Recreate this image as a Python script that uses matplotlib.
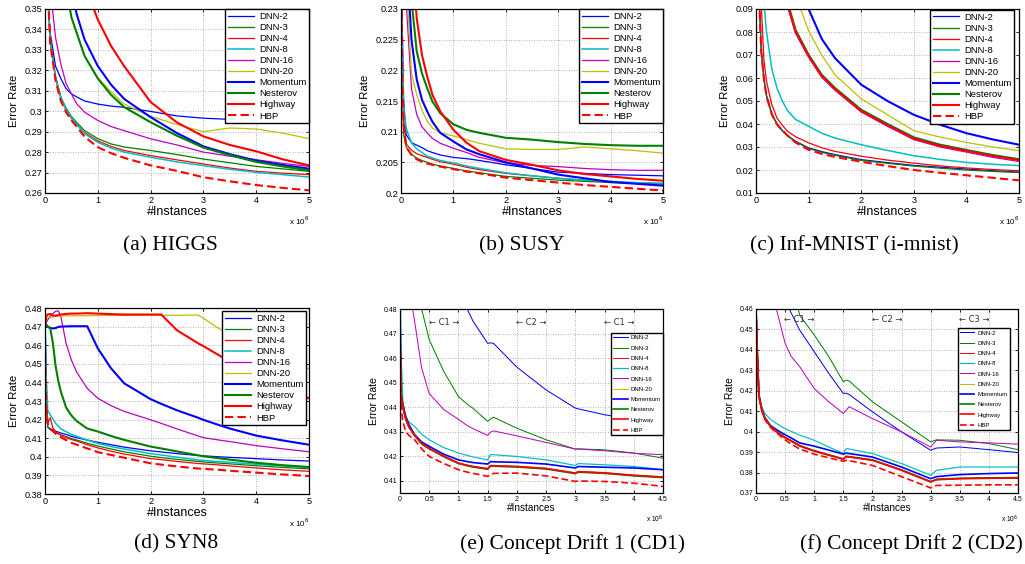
import matplotlib.pyplot as plt
from matplotlib.ticker import FormatStrFormatter

plt.rcParams['font.family'] = ['Liberation Sans', 'DejaVu Sans']

names = ['DNN-2', 'DNN-3', 'DNN-4', 'DNN-8', 'DNN-16', 'DNN-20',
         'Momentum', 'Nesterov', 'Highway', 'HBP']
colors = ['#0000ff', '#008000', '#ff0000', '#00bfbf', '#bf00bf', '#bfbf00',
          '#0000ff', '#008000', '#ff0000', '#ff0000']
widths = [0.9, 0.9, 0.9, 1.1, 0.9, 0.9, 1.5, 1.5, 1.5, 1.5]

# (a) HIGGS, x in units of 1e6 instances
x_higgs = [0, 0.05, 0.1, 0.2, 0.3, 0.4, 0.5, 0.6, 0.75, 1, 1.25, 1.5, 2, 2.5, 3, 3.5, 4, 4.5, 5]
higgs = {
    'DNN-2': [0.50, 0.355, 0.338, 0.322, 0.316, 0.311, 0.3085, 0.307, 0.305, 0.3035, 0.3025, 0.3019, 0.2999, 0.2977, 0.2966, 0.2960, 0.2955, 0.2950, 0.2945],
    'DNN-3': [0.50, 0.36, 0.335, 0.317, 0.307, 0.3015, 0.2975, 0.2945, 0.2905, 0.2866, 0.2840, 0.2825, 0.2808, 0.2788, 0.2766, 0.2748, 0.2730, 0.2718, 0.2706],
    'DNN-4': [0.50, 0.36, 0.334, 0.316, 0.306, 0.3005, 0.2965, 0.2935, 0.2895, 0.2855, 0.2828, 0.2808, 0.2783, 0.2762, 0.2742, 0.2722, 0.2706, 0.2697, 0.2690],
    'DNN-8': [0.50, 0.36, 0.334, 0.3165, 0.3065, 0.301, 0.297, 0.2935, 0.2890, 0.2848, 0.2820, 0.2800, 0.2775, 0.2752, 0.2734, 0.2716, 0.2701, 0.2690, 0.2678],
    'DNN-16': [0.50, 0.40, 0.36, 0.336, 0.323, 0.3135, 0.3085, 0.3037, 0.2995, 0.2955, 0.2925, 0.2905, 0.2865, 0.2835, 0.2800, 0.2780, 0.2763, 0.2745, 0.2730],
    'DNN-20': [0.60, 0.55, 0.50, 0.43, 0.385, 0.36, 0.346, 0.3383, 0.327, 0.3165, 0.3095, 0.3035, 0.2975, 0.2935, 0.2900, 0.2918, 0.2913, 0.2893, 0.2866],
    'Momentum': [0.60, 0.57, 0.54, 0.47, 0.42, 0.385, 0.36, 0.3475, 0.335, 0.3221, 0.313, 0.306, 0.2971, 0.2893, 0.2828, 0.2790, 0.2758, 0.2737, 0.2719],
    'Nesterov': [0.60, 0.55, 0.50, 0.43, 0.385, 0.36, 0.346, 0.3383, 0.327, 0.316, 0.308, 0.302, 0.2946, 0.2880, 0.2822, 0.2785, 0.2752, 0.2730, 0.2711],
    'Highway': [0.70, 0.65, 0.60, 0.52, 0.47, 0.43, 0.405, 0.385, 0.362, 0.3448, 0.332, 0.322, 0.3045, 0.2945, 0.2877, 0.2835, 0.2804, 0.2765, 0.2735],
    'HBP': [0.50, 0.36, 0.333, 0.315, 0.305, 0.2995, 0.2955, 0.2925, 0.2875, 0.2824, 0.2795, 0.2772, 0.2735, 0.2708, 0.2677, 0.2657, 0.2639, 0.2625, 0.2613],
}

# (b) SUSY
x_susy = [0, 0.02, 0.05, 0.1, 0.2, 0.3, 0.4, 0.5, 0.6, 0.75, 1, 1.25, 1.5, 2, 2.5, 3, 3.5, 4, 4.5, 5]
susy = {
    'DNN-2': [0.25, 0.23, 0.215, 0.2095, 0.2082, 0.2078, 0.2074, 0.2069, 0.2066, 0.2062, 0.2058, 0.2056, 0.2053, 0.2046, 0.2040, 0.2034, 0.2032, 0.2030, 0.2029, 0.2028],
    'DNN-3': [0.25, 0.222, 0.2095, 0.2075, 0.2063, 0.2057, 0.2053, 0.2050, 0.2047, 0.2044, 0.2040, 0.2036, 0.2033, 0.2027, 0.2024, 0.2021, 0.2019, 0.2017, 0.2016, 0.2015],
    'DNN-4': [0.25, 0.224, 0.212, 0.2080, 0.2070, 0.2064, 0.2061, 0.2058, 0.2055, 0.2051, 0.2047, 0.2042, 0.2038, 0.2032, 0.2028, 0.2024, 0.2021, 0.2018, 0.2016, 0.2015],
    'DNN-8': [0.25, 0.226, 0.214, 0.2105, 0.2082, 0.2072, 0.2066, 0.2060, 0.2057, 0.2053, 0.2049, 0.2044, 0.2040, 0.2033, 0.2028, 0.2024, 0.2021, 0.2019, 0.2017, 0.2016],
    'DNN-16': [0.25, 0.245, 0.238, 0.231, 0.2170, 0.2128, 0.2108, 0.2098, 0.2089, 0.2081, 0.2073, 0.2066, 0.2058, 0.2049, 0.2045, 0.2043, 0.2040, 0.2038, 0.2037, 0.2037],
    'DNN-20': [0.25, 0.248, 0.245, 0.235, 0.2195, 0.2160, 0.2135, 0.2117, 0.2106, 0.2098, 0.2093, 0.2087, 0.2081, 0.2072, 0.2071, 0.2071, 0.2075, 0.2072, 0.2069, 0.2065],
    'Momentum': [0.25, 0.25, 0.248, 0.240, 0.225, 0.2185, 0.2152, 0.2133, 0.2116, 0.2098, 0.2084, 0.2071, 0.2063, 0.2050, 0.2040, 0.2030, 0.2024, 0.2018, 0.2015, 0.2012],
    'Nesterov': [0.25, 0.25, 0.25, 0.248, 0.2315, 0.2231, 0.2195, 0.2171, 0.2149, 0.2130, 0.2112, 0.2103, 0.2098, 0.2090, 0.2087, 0.2083, 0.2080, 0.2078, 0.2077, 0.2077],
    'Highway': [0.25, 0.25, 0.25, 0.25, 0.240, 0.2285, 0.2225, 0.2190, 0.2160, 0.2133, 0.2103, 0.2082, 0.2068, 0.2054, 0.2046, 0.2037, 0.2031, 0.2027, 0.2023, 0.2020],
    'HBP': [0.25, 0.22, 0.211, 0.2075, 0.2062, 0.2055, 0.2051, 0.2048, 0.2046, 0.2043, 0.2039, 0.2035, 0.2032, 0.2025, 0.2021, 0.2017, 0.2013, 0.2010, 0.2007, 0.2004],
}

# (c) Inf-MNIST
x_mnist = [0, 0.05, 0.1, 0.15, 0.2, 0.3, 0.4, 0.5, 0.6, 0.75, 1, 1.25, 1.5, 2, 2.5, 3, 3.5, 4, 4.5, 5]
mnist = {
    'DNN-2': [0.2, 0.10, 0.0720, 0.0600, 0.0525, 0.0445, 0.0400, 0.0372, 0.0350, 0.0325, 0.0296, 0.0280, 0.0267, 0.0245, 0.0232, 0.0220, 0.0212, 0.0204, 0.0197, 0.0191],
    'DNN-3': [0.2, 0.10, 0.0715, 0.0595, 0.0520, 0.0442, 0.0398, 0.0370, 0.0348, 0.0323, 0.0294, 0.0277, 0.0264, 0.0242, 0.0229, 0.0217, 0.0208, 0.0200, 0.0194, 0.0189],
    'DNN-4': [0.2, 0.12, 0.0920, 0.0680, 0.0585, 0.0485, 0.0425, 0.0395, 0.0368, 0.0345, 0.0318, 0.0297, 0.0281, 0.0260, 0.0243, 0.0230, 0.0218, 0.0209, 0.0202, 0.0197],
    'DNN-8': [0.2, 0.16, 0.13, 0.093, 0.080, 0.0640, 0.0555, 0.0500, 0.0458, 0.0420, 0.0390, 0.0360, 0.0339, 0.0310, 0.0285, 0.0262, 0.0246, 0.0233, 0.0225, 0.0219],
    'DNN-16': [0.3, 0.3, 0.28, 0.25, 0.22, 0.17, 0.13, 0.106, 0.091, 0.0795, 0.0690, 0.0603, 0.0547, 0.0452, 0.0390, 0.0332, 0.0300, 0.0278, 0.0255, 0.0237],
    'DNN-20': [0.3, 0.3, 0.28, 0.25, 0.22, 0.18, 0.15, 0.13, 0.115, 0.096, 0.0805, 0.0700, 0.0614, 0.0510, 0.0440, 0.0371, 0.0343, 0.0320, 0.0300, 0.0284],
    'Momentum': [0.3, 0.3, 0.28, 0.25, 0.22, 0.19, 0.16, 0.14, 0.125, 0.108, 0.090, 0.0770, 0.0687, 0.0571, 0.0500, 0.0440, 0.0397, 0.0360, 0.0333, 0.0310],
    'Nesterov': [0.3, 0.3, 0.28, 0.25, 0.22, 0.17, 0.13, 0.108, 0.093, 0.0810, 0.0701, 0.0614, 0.0557, 0.0462, 0.0400, 0.0342, 0.0310, 0.0287, 0.0265, 0.0247],
    'Highway': [0.3, 0.3, 0.28, 0.25, 0.22, 0.17, 0.13, 0.107, 0.092, 0.0803, 0.0696, 0.0609, 0.0552, 0.0457, 0.0395, 0.0337, 0.0305, 0.0283, 0.0261, 0.0243],
    'HBP': [0.2, 0.10, 0.0715, 0.0595, 0.0520, 0.0442, 0.0398, 0.0372, 0.0350, 0.0320, 0.0288, 0.0270, 0.0257, 0.0236, 0.0217, 0.0200, 0.0188, 0.0177, 0.0166, 0.0155],
}

# (d) SYN8
x_syn8 = [0, 0.02, 0.05, 0.1, 0.15, 0.2, 0.25, 0.3, 0.4, 0.5, 0.6, 0.8, 1, 1.25, 1.5, 2, 2.2, 2.5, 2.9, 3, 3.3, 3.5, 4, 4.5, 5]
syn8 = {
    'DNN-2': [0.478, 0.445, 0.416, 0.415, 0.4145, 0.4138, 0.4133, 0.4128, 0.4120, 0.4110, 0.4103, 0.4090, 0.4078, 0.4065, 0.4052, 0.4032, 0.4026, 0.4017, 0.4007, 0.4005, 0.4000, 0.3997, 0.3990, 0.3983, 0.3977],
    'DNN-3': [0.470, 0.440, 0.416, 0.4145, 0.4138, 0.4130, 0.4124, 0.4118, 0.4108, 0.4098, 0.4090, 0.4073, 0.4058, 0.4042, 0.4027, 0.4003, 0.3996, 0.3986, 0.3975, 0.3972, 0.3966, 0.3962, 0.3952, 0.3943, 0.3935],
    'DNN-4': [0.458, 0.440, 0.418, 0.421, 0.4155, 0.4135, 0.4125, 0.4115, 0.4103, 0.4093, 0.4085, 0.4065, 0.4048, 0.4030, 0.4015, 0.3990, 0.3985, 0.3975, 0.3964, 0.3962, 0.3956, 0.3951, 0.3940, 0.3930, 0.3922],
    'DNN-8': [0.475, 0.445, 0.425, 0.4225, 0.4205, 0.4180, 0.4165, 0.4150, 0.4135, 0.4120, 0.4110, 0.4090, 0.4072, 0.4055, 0.4042, 0.4017, 0.4010, 0.3998, 0.3983, 0.3980, 0.3974, 0.3970, 0.3960, 0.3951, 0.3943],
    'DNN-16': [0.470, 0.472, 0.4735, 0.4755, 0.4770, 0.4782, 0.4785, 0.4755, 0.4610, 0.4520, 0.4455, 0.4368, 0.4315, 0.4275, 0.4244, 0.4199, 0.4180, 0.4150, 0.4112, 0.4103, 0.4090, 0.4082, 0.4060, 0.4043, 0.4027],
    'DNN-20': [0.470, 0.4735, 0.4750, 0.4748, 0.4752, 0.4755, 0.4756, 0.4757, 0.4758, 0.4758, 0.4758, 0.4759, 0.4760, 0.4760, 0.4760, 0.4761, 0.4761, 0.4761, 0.4762, 0.4745, 0.4688, 0.4655, 0.4585, 0.4525, 0.4473],
    'Momentum': [0.4708, 0.4705, 0.4700, 0.4693, 0.4690, 0.4692, 0.4698, 0.4700, 0.4701, 0.4702, 0.4702, 0.4702, 0.4583, 0.4476, 0.4395, 0.4310, 0.4285, 0.4250, 0.4210, 0.4199, 0.4170, 0.4152, 0.4114, 0.4088, 0.4065],
    'Nesterov': [0.4715, 0.4712, 0.4700, 0.4690, 0.4610, 0.4490, 0.4410, 0.4350, 0.4265, 0.4222, 0.4192, 0.4152, 0.4136, 0.4112, 0.4091, 0.4055, 0.4045, 0.4029, 0.4008, 0.4003, 0.3992, 0.3985, 0.3968, 0.3955, 0.3945],
    'Highway': [0.470, 0.4755, 0.4765, 0.4768, 0.4760, 0.4758, 0.4762, 0.4765, 0.4768, 0.4770, 0.4770, 0.4772, 0.4770, 0.4767, 0.4765, 0.4765, 0.4765, 0.4680, 0.4610, 0.4595, 0.4545, 0.4510, 0.4440, 0.4375, 0.4315],
    'HBP': [0.455, 0.430, 0.418, 0.415, 0.4138, 0.4125, 0.4115, 0.4105, 0.4090, 0.4075, 0.4065, 0.4045, 0.4025, 0.4010, 0.3995, 0.3965, 0.3958, 0.3948, 0.3937, 0.3935, 0.3930, 0.3925, 0.3915, 0.3905, 0.3897],
}

# (e) Concept Drift 1
x_cd1 = [0, 0.02, 0.05, 0.1, 0.15, 0.25, 0.37, 0.5, 0.75, 1, 1.15, 1.25, 1.5, 1.55, 1.6, 2, 2.5, 3, 3.05, 3.5, 4, 4.5]
cd1 = {
    'DNN-2': [0.75, 0.74, 0.73, 0.72, 0.70, 0.65, 0.60, 0.56, 0.52, 0.495, 0.480, 0.475, 0.4660, 0.4662, 0.4660, 0.4563, 0.4470, 0.4396, 0.4393, 0.4369, 0.4350, 0.4335],
    'DNN-3': [0.65, 0.64, 0.62, 0.60, 0.58, 0.53, 0.480, 0.4675, 0.4545, 0.4443, 0.4412, 0.4395, 0.4342, 0.4352, 0.4359, 0.4314, 0.4267, 0.4229, 0.4230, 0.4226, 0.4213, 0.4192],
    'DNN-4': [0.47, 0.445, 0.440, 0.435, 0.432, 0.4285, 0.4252, 0.4232, 0.4200, 0.4172, 0.4163, 0.4158, 0.4149, 0.4162, 0.4161, 0.4158, 0.4150, 0.4131, 0.4137, 0.4132, 0.4122, 0.4115],
    'DNN-8': [0.50, 0.46, 0.442, 0.436, 0.434, 0.4321, 0.4290, 0.4267, 0.4235, 0.4213, 0.4203, 0.4197, 0.4185, 0.4207, 0.4206, 0.4199, 0.4185, 0.4162, 0.4170, 0.4165, 0.4158, 0.4145],
    'DNN-16': [0.60, 0.58, 0.55, 0.51, 0.49, 0.4750, 0.4560, 0.4455, 0.4390, 0.4350, 0.4325, 0.4312, 0.4285, 0.4298, 0.4303, 0.4283, 0.4256, 0.4229, 0.4229, 0.4222, 0.4212, 0.4206],
    'DNN-20': [0.47, 0.445, 0.440, 0.435, 0.432, 0.4285, 0.4253, 0.4233, 0.4201, 0.4173, 0.4164, 0.4159, 0.4150, 0.4163, 0.4162, 0.4159, 0.4151, 0.4132, 0.4138, 0.4133, 0.4123, 0.4116],
    'Momentum': [0.48, 0.445, 0.441, 0.436, 0.433, 0.4288, 0.4258, 0.4240, 0.4208, 0.4185, 0.4178, 0.4174, 0.4168, 0.4178, 0.4177, 0.4175, 0.4168, 0.4152, 0.4158, 0.4155, 0.4152, 0.4145],
    'Nesterov': [0.47, 0.445, 0.440, 0.435, 0.432, 0.4284, 0.4250, 0.4230, 0.4198, 0.4170, 0.4161, 0.4156, 0.4147, 0.4160, 0.4159, 0.4156, 0.4148, 0.4129, 0.4135, 0.4130, 0.4120, 0.4113],
    'Highway': [0.47, 0.445, 0.440, 0.435, 0.432, 0.4285, 0.4252, 0.4232, 0.4200, 0.4172, 0.4163, 0.4158, 0.4149, 0.4162, 0.4161, 0.4158, 0.4150, 0.4131, 0.4137, 0.4132, 0.4122, 0.4115],
    'HBP': [0.47, 0.44, 0.434, 0.430, 0.4285, 0.4267, 0.4230, 0.4199, 0.4170, 0.4145, 0.4135, 0.4130, 0.4118, 0.4125, 0.4130, 0.4131, 0.4120, 0.4097, 0.4099, 0.4097, 0.4090, 0.4077],
}

# (f) Concept Drift 2
x_cd2 = [0, 0.02, 0.05, 0.1, 0.15, 0.25, 0.35, 0.5, 0.6, 0.75, 1, 1.25, 1.5, 1.55, 1.6, 2, 2.5, 3, 3.1, 3.5, 4, 4.5]
cd2 = {
    'DNN-2': [0.70, 0.65, 0.60, 0.56, 0.53, 0.50, 0.48, 0.465, 0.4583, 0.4497, 0.4391, 0.4285, 0.4187, 0.4188, 0.4182, 0.4097, 0.3999, 0.3909, 0.3920, 0.3925, 0.3912, 0.3898],
    'DNN-3': [0.75, 0.70, 0.66, 0.62, 0.59, 0.55, 0.52, 0.49, 0.475, 0.4570, 0.4473, 0.4367, 0.4244, 0.4252, 0.4248, 0.4146, 0.4048, 0.3950, 0.3960, 0.3958, 0.3942, 0.3912],
    'DNN-4': [0.46, 0.44, 0.418, 0.4105, 0.4065, 0.4025, 0.4000, 0.3970, 0.3955, 0.3930, 0.3905, 0.3885, 0.3865, 0.3878, 0.3876, 0.3860, 0.3811, 0.3754, 0.3765, 0.3770, 0.3772, 0.3773],
    'DNN-8': [0.46, 0.44, 0.4171, 0.4122, 0.4089, 0.4060, 0.4040, 0.4015, 0.4002, 0.3983, 0.3958, 0.3925, 0.3893, 0.3917, 0.3915, 0.3893, 0.3844, 0.3787, 0.3811, 0.3827, 0.3827, 0.3827],
    'DNN-16': [0.62, 0.58, 0.54, 0.51, 0.49, 0.475, 0.460, 0.4432, 0.4370, 0.4318, 0.4211, 0.4146, 0.4089, 0.4105, 0.4122, 0.4064, 0.3999, 0.3925, 0.3958, 0.3950, 0.3945, 0.3939],
    'DNN-20': [0.46, 0.44, 0.418, 0.4105, 0.4065, 0.4026, 0.4001, 0.3971, 0.3956, 0.3931, 0.3906, 0.3886, 0.3866, 0.3879, 0.3877, 0.3861, 0.3812, 0.3755, 0.3766, 0.3771, 0.3773, 0.3774],
    'Momentum': [0.46, 0.44, 0.418, 0.411, 0.407, 0.403, 0.401, 0.3985, 0.3970, 0.3945, 0.3929, 0.3910, 0.3890, 0.3895, 0.3893, 0.3876, 0.3827, 0.3770, 0.3780, 0.3790, 0.3795, 0.3798],
    'Nesterov': [0.46, 0.44, 0.418, 0.4106, 0.4066, 0.4027, 0.4002, 0.3972, 0.3957, 0.3932, 0.3907, 0.3887, 0.3867, 0.3880, 0.3878, 0.3862, 0.3813, 0.3756, 0.3767, 0.3772, 0.3774, 0.3775],
    'Highway': [0.46, 0.44, 0.418, 0.4105, 0.4065, 0.4025, 0.4000, 0.3970, 0.3955, 0.3930, 0.3905, 0.3885, 0.3865, 0.3878, 0.3876, 0.3860, 0.3811, 0.3754, 0.3765, 0.3770, 0.3772, 0.3773],
    'HBP': [0.46, 0.44, 0.417, 0.410, 0.406, 0.402, 0.3995, 0.3960, 0.3940, 0.3915, 0.3890, 0.3872, 0.3855, 0.3860, 0.3858, 0.3835, 0.3780, 0.3725, 0.3737, 0.3738, 0.3740, 0.3740],
}

captions = ['(a) HIGGS', '(b) SUSY', '(c) Inf-MNIST (i-mnist)',
            '(d) SYN8', '(e) Concept Drift 1 (CD1)', '(f) Concept Drift 2 (CD2)']
concepts_cd1 = ['C1', 'C2', 'C1']
concepts_cd2 = ['C1', 'C2', 'C3']
concept_mid = [0.75, 2.25, 3.75]

W, H = 1025, 564
fig = plt.figure(figsize=(W / 100, H / 100), dpi=100)


def make_axes(left, top, right, bottom):
    return fig.add_axes([left / W, 1 - bottom / H, (right - left) / W, (bottom - top) / H])


def draw(ax, x, curves, ylim, ystep, xmax, xstep, anchor, small=False):
    for name, c, lw in zip(names, colors, widths):
        ls = (0, (4, 2)) if name == 'HBP' else '-'
        ax.plot(x, curves[name], color=c, lw=lw * (0.8 if small else 1), ls=ls, label=name)
    ax.set_xlim(0, xmax)
    ax.set_ylim(*ylim)
    nt = int(round((ylim[1] - ylim[0]) / ystep))
    yt = [round(ylim[1] - i * ystep, 4) for i in range(nt + 1)]
    ax.set_yticks([v for v in yt if v >= ylim[0] - 1e-9])
    ax.set_xticks([i * xstep for i in range(int(round(xmax / xstep)) + 1)])
    ax.yaxis.set_major_formatter(FormatStrFormatter('%g'))
    ax.xaxis.set_major_formatter(FormatStrFormatter('%g'))
    fs_tick = 5 if small else 6.6
    ax.tick_params(direction='in', length=2.5, width=0.6, top=True, right=True,
                   labelsize=fs_tick, pad=2)
    ax.grid(True, color='#9a9a9a', ls=(0, (1, 2)), lw=0.6)
    for s in ax.spines.values():
        s.set_linewidth(0.9)
    ax.set_xlabel('#Instances', fontsize=7.2 if small else 9, labelpad=0 if small else 1)
    ax.set_ylabel('Error Rate', fontsize=7.5 if small else 8.2, labelpad=3 if small else 4)
    ax.text(1.0, -0.115 if small else -0.12, r'x 10$^6$', transform=ax.transAxes,
            ha='right', va='top', fontsize=4.8 if small else 5.8)
    leg = ax.legend(loc='upper right', bbox_to_anchor=anchor, fontsize=4.3 if small else 6.8,
                    fancybox=False, framealpha=1, edgecolor='black', borderaxespad=0,
                    labelspacing=0.85 if small else 0.22, handlelength=2.4 if small else 2.8,
                    borderpad=0.4 if small else 0.3, handletextpad=0.5)
    leg.get_frame().set_linewidth(1.0)


ax_a = make_axes(45, 9, 309, 193)
draw(ax_a, x_higgs, higgs, (0.26, 0.35), 0.01, 5, 1, (1.0, 1.0))
ax_b = make_axes(401, 9, 663, 193)
draw(ax_b, x_susy, susy, (0.2, 0.23), 0.005, 5, 1, (1.0, 1.0))
ax_c = make_axes(756, 9, 1019, 193)
draw(ax_c, x_mnist, mnist, (0.01, 0.09), 0.01, 5, 1, (0.981, 0.995))
ax_d = make_axes(45, 308, 309, 494)
draw(ax_d, x_syn8, syn8, (0.38, 0.48), 0.01, 5, 1, (0.989, 0.984))
ax_e = make_axes(400, 309, 663, 493)
draw(ax_e, x_cd1, cd1, (0.405, 0.48), 0.01, 4.5, 0.5, (1.0, 0.87), small=True)
ax_f = make_axes(756, 309, 1018, 493)
draw(ax_f, x_cd2, cd2, (0.37, 0.46), 0.01, 4.5, 0.5, (0.969, 0.897), small=True)

for xm, lab in zip(concept_mid, concepts_cd1):
    ax_e.text(xm, 0.4747, '\u2190 ' + lab + ' \u2192', ha='center', va='center', fontsize=6,
              family=['DejaVu Sans'], color='#333333')
for xm, lab in zip(concept_mid, concepts_cd2):
    ax_f.text(xm, 0.455, '\u2190 ' + lab + ' \u2192', ha='center', va='center', fontsize=6,
              family=['DejaVu Sans'], color='#333333')

cap_pos = [(170, 246), (522, 246), (854, 246), (176, 544), (572, 544), (911, 544)]
for (cx, cy), cap in zip(cap_pos, captions):
    fig.text(cx / W, 1 - cy / H, cap, ha='center', va='center', fontsize=15.5,
             family=['Liberation Serif', 'DejaVu Serif'])

fig.savefig('out.png', dpi=100)
